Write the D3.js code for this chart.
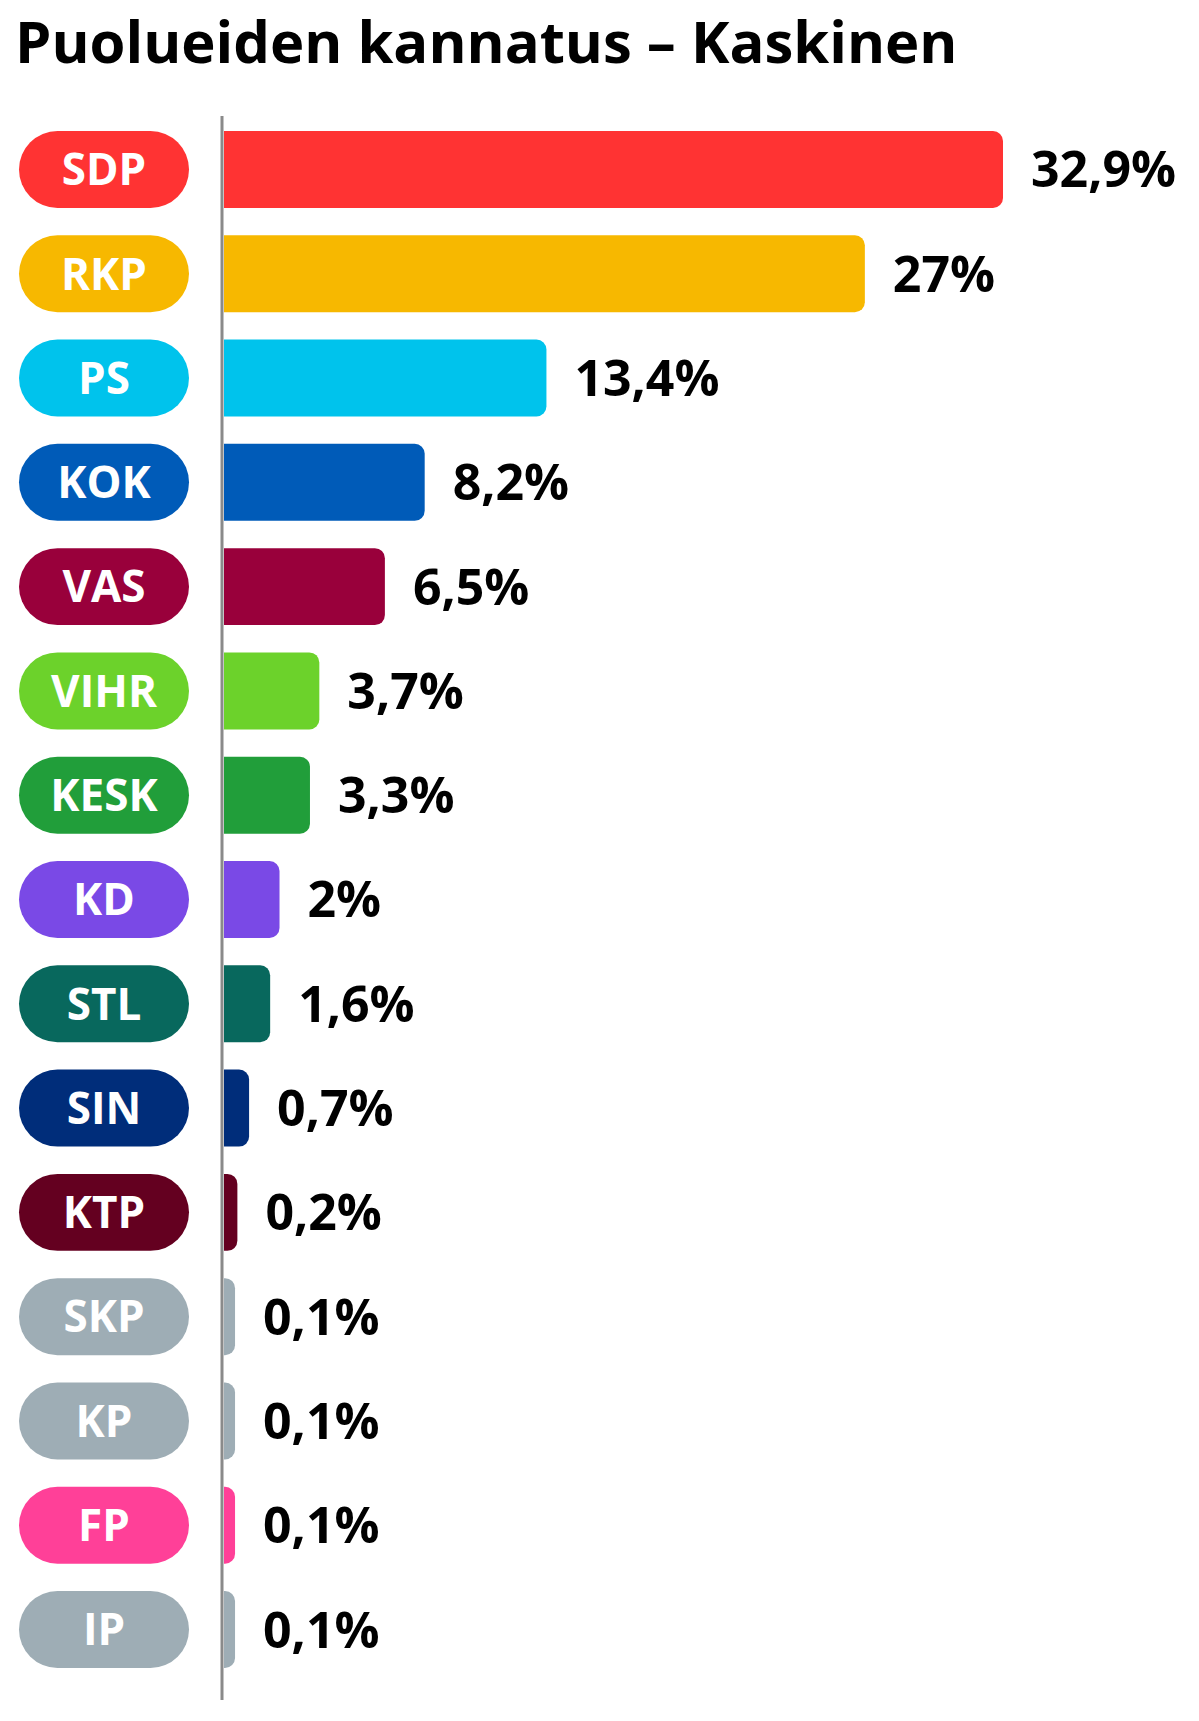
<!DOCTYPE html>
<html>
<head>
<meta charset="utf-8">
<script src="https://cdn.jsdelivr.net/npm/d3@7"></script>
<style>
	body { margin: 0; background: #fff; }
	text { font-family: "Open Sans", "Noto Sans", sans-serif; font-weight: 700; }
</style>
</head>
<body>
<script>
//////////////////////////////////////////////
// Data //////////////////////////////////////
//////////////////////////////////////////////
var parties = ["SDP", "RKP", "PS", "KOK", "VAS", "VIHR", "KESK", "KD", "STL", "SIN", "KTP", "SKP", "KP", "FP", "IP"];
var shares = [32.9, 27, 13.4, 8.2, 6.5, 3.7, 3.3, 2, 1.6, 0.7, 0.2, 0.1, 0.1, 0.1, 0.1];
var colors = ["#ff3333", "#f7b800", "#00c3ec", "#005bb8", "#99003b", "#6cd22b", "#219e3a", "#7a49e6",
	"#08685d", "#002d7a", "#640020", "#9eadb5", "#9eadb5", "#ff4098", "#9eadb5"];
var title = "Puolueiden kannatus – Kaskinen";

var data = parties.map(function(p, i) {
	return {party: p, share: shares[i], color: colors[i]};
});

// finnish number format: decimal comma
var fmt = function(v) { return String(v).replace(".", ",") + "%"; };

//////////////////////////////////////////////
// Chart Config /////////////////////////////
//////////////////////////////////////////////
var width = 1199,
	height = 1721,
	axisX = 222,
	barX = 224;

var svg = d3.select("body")
			.append("svg")
			.attr("width", width)
			.attr("height", height);

// rows
var yScale = d3.scaleBand()
			   .domain(parties)
			   .range([131, 1668])
			   .paddingInner(0.262)
			   .paddingOuter(0);

// bar lengths, small values still get a little stub
var xScale = d3.scaleLinear()
			   .domain([0, d3.max(shares)])
			   .range([8.7, 779]);

// title
svg.append("text")
   .attr("x", 15)
   .attr("y", 63)
   .attr("font-size", 58)
   .attr("fill", "#000")
   .text(title);

// rounded right end only
function barPath(x, y, w, h, r) {
	r = Math.min(r, w, h / 2);
	return "M" + x + "," + y +
		"H" + (x + w - r) +
		"A" + r + "," + r + " 0 0 1 " + (x + w) + "," + (y + r) +
		"V" + (y + h - r) +
		"A" + r + "," + r + " 0 0 1 " + (x + w - r) + "," + (y + h) +
		"H" + x + "Z";
}

var rows = svg.selectAll(".row")
			  .data(data)
			  .enter().append("g")
			  .attr("class", "row")
			  .attr("transform", function(d) { return "translate(0," + yScale(d.party) + ")"; });

var bw = yScale.bandwidth();

// party pills
rows.append("rect")
	.attr("x", 19)
	.attr("y", 0)
	.attr("width", 170)
	.attr("height", bw)
	.attr("rx", bw / 2)
	.attr("ry", bw / 2)
	.attr("fill", function(d) { return d.color; });

rows.append("text")
	.attr("x", 104)
	.attr("y", bw / 2)
	.attr("dy", "0.36em")
	.attr("text-anchor", "middle")
	.attr("font-size", 44)
	.attr("fill", "#fff")
	.text(function(d) { return d.party; });

// bars
rows.append("path")
	.attr("d", function(d) { return barPath(barX, 0, xScale(d.share), bw, 10); })
	.attr("fill", function(d) { return d.color; });

// value labels
rows.append("text")
	.attr("x", function(d) { return barX + xScale(d.share) + 28; })
	.attr("y", bw / 2)
	.attr("dy", "0.36em")
	.attr("font-size", 50)
	.attr("fill", "#000")
	.text(function(d) { return fmt(d.share); });

// vertical axis line
svg.append("line")
   .attr("x1", axisX)
   .attr("x2", axisX)
   .attr("y1", 116)
   .attr("y2", 1700)
   .attr("stroke", "#8a8a8a")
   .attr("stroke-width", 3);
</script>
</body>
</html>
